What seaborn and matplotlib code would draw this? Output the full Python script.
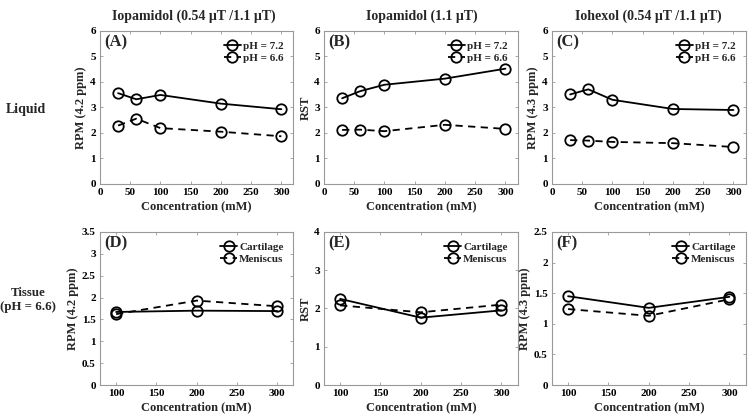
import pandas as pd
import matplotlib.pyplot as plt
import seaborn as sns

# %%
conc_liquid = [30, 60, 100, 200, 300]
conc_tissue = [100, 200, 300]

# Liquid, pH 7.2 / pH 6.6
a_ph72 = [3.56, 3.32, 3.49, 3.15, 2.93]
a_ph66 = [2.29, 2.56, 2.19, 2.05, 1.87]
b_ph72 = [3.36, 3.64, 3.89, 4.13, 4.52]
b_ph66 = [2.12, 2.13, 2.07, 2.32, 2.16]
c_ph72 = [3.51, 3.71, 3.30, 2.94, 2.90]
c_ph66 = [1.72, 1.70, 1.65, 1.60, 1.45]

# Tissue (pH = 6.6), cartilage / meniscus
d_cart = [1.67, 1.70, 1.69]
d_meni = [1.62, 1.93, 1.80]
e_cart = [2.25, 1.76, 1.95]
e_meni = [2.08, 1.90, 2.10]
f_cart = [1.45, 1.26, 1.44]
f_meni = [1.24, 1.13, 1.40]

col_titles = ['Iopamidol (0.54 \u03bcT /1.1 \u03bcT)', 'Iopamidol (1.1 \u03bcT)',
              'Iohexol (0.54 \u03bcT /1.1 \u03bcT)']
row_labels = ['Liquid', 'Tissue\n(pH = 6.6)']
panel_tags = ['(A)', '(B)', '(C)', '(D)', '(E)', '(F)']
ylabels = ['RPM (4.2 ppm)', 'RST', 'RPM (4.3 ppm)']

# %%
sns.set_style('ticks')
plt.rcParams['font.family'] = ['Liberation Serif', 'DejaVu Serif']
plt.rcParams['font.weight'] = 'bold'
plt.rcParams['axes.labelweight'] = 'bold'

fig = plt.figure(figsize=(7.5, 4.16), dpi=100)

lefts = [0.1333, 0.432, 0.736]
width = 0.258
bottoms = [0.5577, 0.0745]
height = 0.368

panels = [
    (conc_liquid, a_ph72, a_ph66, ('pH = 7.2', 'pH = 6.6'), (0, 6, 1), (0, 320)),
    (conc_liquid, b_ph72, b_ph66, ('pH = 7.2', 'pH = 6.6'), (0, 6, 1), (0, 320)),
    (conc_liquid, c_ph72, c_ph66, ('pH = 7.2', 'pH = 6.6'), (0, 6, 1), (0, 320)),
    (conc_tissue, d_cart, d_meni, ('Cartilage', 'Meniscus'), (0, 3.5, 0.5), (80, 320)),
    (conc_tissue, e_cart, e_meni, ('Cartilage', 'Meniscus'), (0, 4, 1), (80, 320)),
    (conc_tissue, f_cart, f_meni, ('Cartilage', 'Meniscus'), (0, 2.5, 0.5), (80, 320)),
]

for i, (xs, y1, y2, names, (ylo, yhi, ystep), xlim) in enumerate(panels):
    row, col = divmod(i, 3)
    ax = fig.add_axes([lefts[col], bottoms[row], width, height])
    sns.lineplot(x=xs, y=y1, ax=ax, color='k', lw=1.3, marker='o', ms=7.5,
                 mfc='none', mec='k', mew=1.3, label=names[0])
    sns.lineplot(x=xs, y=y2, ax=ax, color='k', lw=1.3, marker='o', ms=7.5,
                 mfc='none', mec='k', mew=1.3, dashes=(4, 3), label=names[1])
    ax.set_xlim(*xlim)
    ax.set_ylim(ylo, yhi)
    n = int(round((yhi - ylo) / ystep))
    yt = [ylo + k * ystep for k in range(n + 1)]
    ax.set_yticks(yt)
    ax.set_yticklabels([f'{v:g}' for v in yt])
    if row == 0:
        ax.set_xticks(range(0, 301, 50))
    else:
        ax.set_xticks(range(100, 301, 50))
    ax.tick_params(direction='in', length=2.5, width=0.6, labelsize=8,
                   top=True, right=True, colors='#999999', labelcolor='k', pad=3)
    for lab in ax.get_xticklabels() + ax.get_yticklabels():
        lab.set_fontweight('bold')
    for sp in ax.spines.values():
        sp.set_color('#999999')
        sp.set_linewidth(0.8)
    ax.set_xlabel('Concentration (mM)', fontsize=9, labelpad=2)
    ax.set_ylabel(ylabels[col], fontsize=9, labelpad=2)
    ax.text(0.02, 0.98, panel_tags[i], transform=ax.transAxes, fontsize=12,
            fontweight='bold', va='top', ha='left')
    ax.legend(loc='upper right', frameon=False, handlelength=1.5,
              handletextpad=0.2, labelspacing=0.2, borderaxespad=0.5,
              prop={'weight': 'bold', 'size': 8})

title_x = [0.258, 0.563, 0.864]
for x, t in zip(title_x, col_titles):
    fig.text(x, 0.962, t, ha='center', va='center', fontsize=10, fontweight='bold')

fig.text(0.035, 0.736, row_labels[0], ha='center', va='center', fontsize=10, fontweight='bold')
fig.text(0.038, 0.279, row_labels[1], ha='center', va='center', fontsize=9.3,
         fontweight='bold', linespacing=1.3)

fig.savefig('out.png', dpi=100)
